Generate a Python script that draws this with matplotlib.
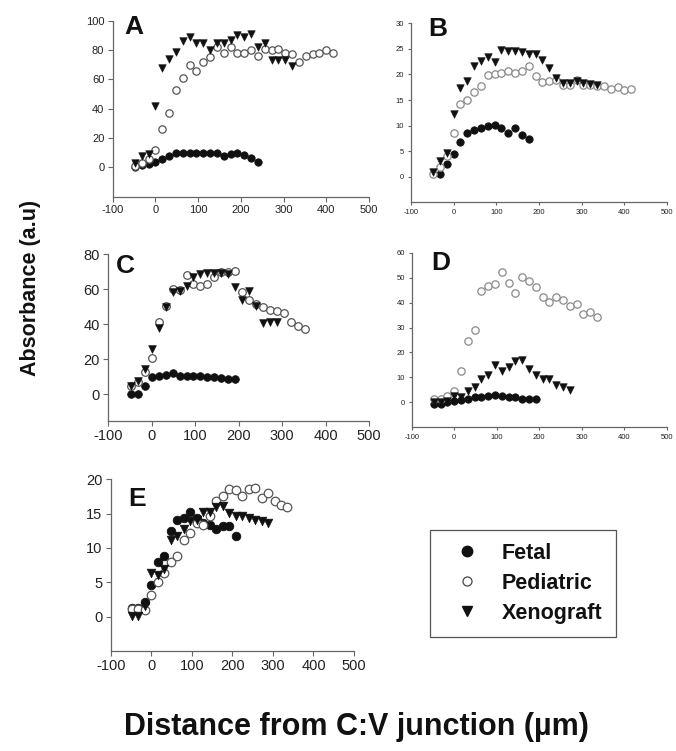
import matplotlib
matplotlib.use("Agg")
import matplotlib.pyplot as plt
from matplotlib.lines import Line2D

plt.rcParams['font.family'] = ['Liberation Sans', 'DejaVu Sans']

# ---------------- Panel A ----------------
a_fet_x = [-48, -32, -16, 0, 16, 32, 48, 64, 80, 96, 112, 128, 144, 160, 176, 192, 208, 224, 240]
a_fet_y = [0.5, 1.5, 2.5, 4, 5.5, 7.5, 9.5, 10, 10, 10, 10, 9.5, 9.5, 8, 9, 9.5, 8.5, 6.5, 4]
a_ped_x = [-48, -32, -16, 0, 16, 32, 48, 64, 80, 96, 112, 128, 144, 160, 176, 192, 208, 224, 240,
           256, 272, 288, 304, 320, 336, 352, 368, 384, 400, 416]
a_ped_y = [0.7, 3, 6, 12, 26, 37, 53, 61, 70, 66, 72, 75, 82, 78, 82, 78, 78, 80, 76,
           81, 80, 81, 78, 77, 72, 76, 77, 78, 80, 78]
a_xen_x = [-48, -32, -16, 0, 16, 32, 48, 64, 80, 96, 112, 128, 144, 160, 176, 192, 208, 224, 240,
           256, 272, 288, 304, 320]
a_xen_y = [3, 8, 9, 42, 68, 74, 79, 86, 89, 85, 85, 80, 85, 85, 87, 90, 89, 91, 82,
           85, 73, 73, 73, 69]

# ---------------- Panel B ----------------
b_fet_x = [-32, -16, 0, 16, 32, 48, 64, 80, 96, 112, 128, 144, 160, 176]
b_fet_y = [0.5, 2.5, 4.4, 6.7, 8.6, 9.1, 9.6, 9.9, 10.2, 9.6, 8.5, 9.6, 8.1, 7.3]
b_ped_x = [-48, -32, -16, 0, 16, 32, 48, 64, 80, 96, 112, 128, 144, 160, 176, 192, 208, 224, 240,
           256, 272, 288, 304, 320, 336, 352, 368, 384, 400, 416]
b_ped_y = [0.5, 2, 4, 8.6, 14.3, 15.1, 16.5, 17.7, 19.8, 20, 20.2, 20.6, 20.2, 20.6, 21.6, 19.6, 18.5, 18.7, 19,
           18, 18, 18.9, 18, 18, 17.8, 17.8, 17.2, 17.6, 17, 17.2]
b_xen_x = [-48, -32, -16, 0, 16, 32, 48, 64, 80, 96, 112, 128, 144, 160, 176, 192, 208, 224, 240,
           256, 272, 288, 304, 320, 336]
b_xen_y = [1, 3, 4.7, 12.2, 17.4, 18.7, 21.7, 22.7, 23.4, 22.5, 24.7, 24.5, 24.5, 24.3, 23.9, 23.9, 22.9, 21.3, 19.3,
           18.3, 18.3, 18.7, 18.3, 18.2, 18]

# ---------------- Panel C ----------------
c_fet_x = [-48, -32, -16, 0, 16, 32, 48, 64, 80, 96, 112, 128, 144, 160, 176, 192]
c_fet_y = [0, 0, 5, 10, 10.5, 11, 12, 10.5, 10.5, 10.5, 10.5, 10, 10, 9.5, 9, 8.5]
c_ped_x = [-48, -32, -16, 0, 16, 32, 48, 64, 80, 96, 112, 128, 144, 160, 176, 192, 208, 224, 240,
           256, 272, 288, 304, 320, 336, 352]
c_ped_y = [5, 7, 13, 21, 41.5, 50.4, 60, 59.5, 68, 63, 62, 63, 67, 70, 70, 70.5, 58.6, 54, 51.5,
           50, 48, 47.6, 46.6, 41.5, 38.7, 37]
c_xen_x = [-48, -32, -16, 0, 16, 32, 48, 64, 80, 96, 112, 128, 144, 160, 176, 192, 208, 224, 240,
           256, 272, 288]
c_xen_y = [4.5, 7.4, 14.4, 25.8, 37.7, 49.7, 58.6, 59, 62, 66.7, 68.6, 69, 69.4, 69, 68.6, 61.4, 53.8, 59, 50.4,
           40.6, 41, 41.5]

# ---------------- Panel D ----------------
d_fet_x = [-48, -32, -16, 0, 16, 32, 48, 64, 80, 96, 112, 128, 144, 160, 176, 192]
d_fet_y = [-0.5, -0.5, 0, 0.5, 1, 1.5, 2, 2.3, 2.5, 3, 2.5, 2, 2, 1.2, 1.5, 1.2]
d_ped_x = [-48, -32, -16, 0, 16, 32, 48, 64, 80, 96, 112, 128, 144, 160, 176, 192, 208, 224, 240,
           256, 272, 288, 304, 320, 336]
d_ped_y = [1.3, 1.3, 2.4, 4.4, 12.4, 24.7, 29, 44.7, 46.7, 47.5, 52.4, 47.7, 43.7, 50.4, 48.8, 46.4, 42.4, 40.4, 42.4,
           41, 38.7, 39.5, 35.5, 36.4, 34.4]
d_xen_x = [-48, -32, -16, 0, 16, 32, 48, 64, 80, 96, 112, 128, 144, 160, 176, 192, 208, 224, 240,
           256, 272]
d_xen_y = [0, 0, 0.4, 2.4, 2, 4.4, 6.1, 9.3, 11, 15, 12.7, 14, 16.4, 17, 13.3, 11, 9.3, 9.3, 7,
           6.1, 4.8]

# ---------------- Panel E ----------------
e_fet_x = [-48, -32, -16, 0, 16, 32, 48, 64, 80, 96, 112, 128, 144, 160, 176, 192, 208]
e_fet_y = [1.2, 1.2, 2.2, 4.6, 7.9, 8.9, 12.4, 14.1, 14.4, 15.3, 14.4, 13.6, 13.4, 12.8, 13.2, 13.2, 11.7]
e_ped_x = [-48, -32, -16, 0, 16, 32, 48, 64, 80, 96, 112, 128, 144, 160, 176, 192, 208, 224, 240,
           256, 272, 288, 304, 320, 336]
e_ped_y = [1.1, 1.1, 0.9, 3.1, 5, 6.4, 7.9, 8.9, 11.2, 12.2, 13.6, 13.4, 14.6, 16.8, 17.6, 18.6, 18.5, 17.6, 18.6,
           18.7, 17.3, 18, 16.8, 16.3, 16]
e_xen_x = [-48, -32, -16, 0, 16, 32, 48, 64, 80, 96, 112, 128, 144, 160, 176, 192, 208, 224, 240,
           256, 272, 288]
e_xen_y = [0.1, 0.1, 1.6, 6.4, 6, 6.9, 11.2, 11.8, 12.7, 13.9, 14.1, 15.3, 15.3, 16, 16.1, 15.1, 14.6, 14.6, 14.4,
           14.1, 14, 13.7]

x_ticks = [-100, 0, 100, 200, 300, 400, 500]
series_labels = ['Fetal', 'Pediatric', 'Xenograft']

W, H = 676, 751
fig = plt.figure(figsize=(W / 100, H / 100), dpi=100)


def px_axes(left, right, top, bottom):
    return fig.add_axes([left / W, 1 - bottom / H, (right - left) / W, (bottom - top) / H])


panels = [
    ('A', (112.7, 369, 20.7, 196.7), (-20, 100), [0, 20, 40, 60, 80, 100], 8, 28, '#555555',
     (a_fet_x, a_fet_y, a_ped_x, a_ped_y, a_xen_x, a_xen_y), (124, 34)),
    ('B', (411, 667, 23.3, 202.3), (-5, 30), [0, 5, 10, 15, 20, 25, 30], 5.5, 28, '#8a8a8a',
     (b_fet_x, b_fet_y, b_ped_x, b_ped_y, b_xen_x, b_xen_y), (428, 36)),
    ('C', (108.3, 369, 254, 420.7), (-15, 80), [0, 20, 40, 60, 80], 10.5, 30, '#555555',
     (c_fet_x, c_fet_y, c_ped_x, c_ped_y, c_xen_x, c_xen_y), (116, 273)),
    ('D', (411.7, 666.7, 252.7, 427.3), (-10, 60), [0, 10, 20, 30, 40, 50, 60], 5.5, 28, '#8a8a8a',
     (d_fet_x, d_fet_y, d_ped_x, d_ped_y, d_xen_x, d_xen_y), (431, 270)),
    ('E', (110.7, 354, 479.3, 651), (-5, 20), [0, 5, 10, 15, 20], 10.5, 38, '#555555',
     (e_fet_x, e_fet_y, e_ped_x, e_ped_y, e_xen_x, e_xen_y), (128, 506)),
]

for letter, rect, ylim, yticks, tsize, ms, pedc, data, lpos in panels:
    ax = px_axes(*rect)
    fx, fy, px_, py, xx, xy = data
    ax.scatter(fx, fy, s=ms, marker='o', facecolor='#111111', edgecolor='#111111', linewidth=0.6, zorder=3)
    ax.scatter(px_, py, s=ms, marker='o', facecolor='white', edgecolor=pedc, linewidth=0.9, zorder=4)
    ax.scatter(xx, xy, s=ms * 1.05, marker='v', facecolor='#111111', edgecolor='#111111', linewidth=0.4, zorder=5)
    ax.set_xlim(-100, 500)
    ax.set_ylim(*ylim)
    ax.set_xticks(x_ticks)
    ax.set_yticks(yticks)
    ax.set_xticklabels([str(t) for t in x_ticks])
    ax.set_yticklabels([str(t) for t in yticks])
    for s in ['top', 'right']:
        ax.spines[s].set_visible(False)
    for s in ['left', 'bottom']:
        ax.spines[s].set_color('#666666')
        ax.spines[s].set_linewidth(0.9)
    ax.tick_params(axis='both', direction='out', length=3.5 if tsize > 6 else 2.5, width=0.8,
                   color='#666666', labelsize=tsize, labelcolor='#222222', pad=2.5)
    ax.patch.set_alpha(0)
    fig.text(lpos[0] / W, 1 - lpos[1] / H, letter, fontsize=19, fontweight='bold',
             ha='left', va='baseline', color='#111111')

# Legend
handles = [
    Line2D([], [], linestyle='none', marker='o', markersize=7.5, markerfacecolor='#111111', markeredgecolor='#111111'),
    Line2D([], [], linestyle='none', marker='o', markersize=6.5, markerfacecolor='white', markeredgecolor='#444444',
           markeredgewidth=0.9),
    Line2D([], [], linestyle='none', marker='v', markersize=7.5, markerfacecolor='#111111', markeredgecolor='#111111'),
]
leg = fig.legend(handles, series_labels, loc='upper left', bbox_to_anchor=(430 / W, 1 - 530 / H),
                 frameon=True, fancybox=False, edgecolor='#555555', framealpha=1,
                 prop=dict(family='Liberation Sans', weight='bold', size=15.5),
                 handlelength=2.2, handletextpad=0.55, borderpad=0.6, labelspacing=0.42,
                 borderaxespad=0)
leg.get_frame().set_linewidth(0.9)
for t in leg.get_texts():
    t.set_color('#111111')

fig.text(31 / W, 1 - 288 / H, 'Absorbance (a.u)', rotation=90, ha='center', va='center',
         fontsize=15.5, fontweight='bold', color='#111111')
fig.text(356 / W, 1 - 735 / H, 'Distance from C:V junction (µm)', ha='center', va='baseline',
         fontsize=22, fontweight='bold', color='#111111')

fig.savefig('out.png', dpi=100)
